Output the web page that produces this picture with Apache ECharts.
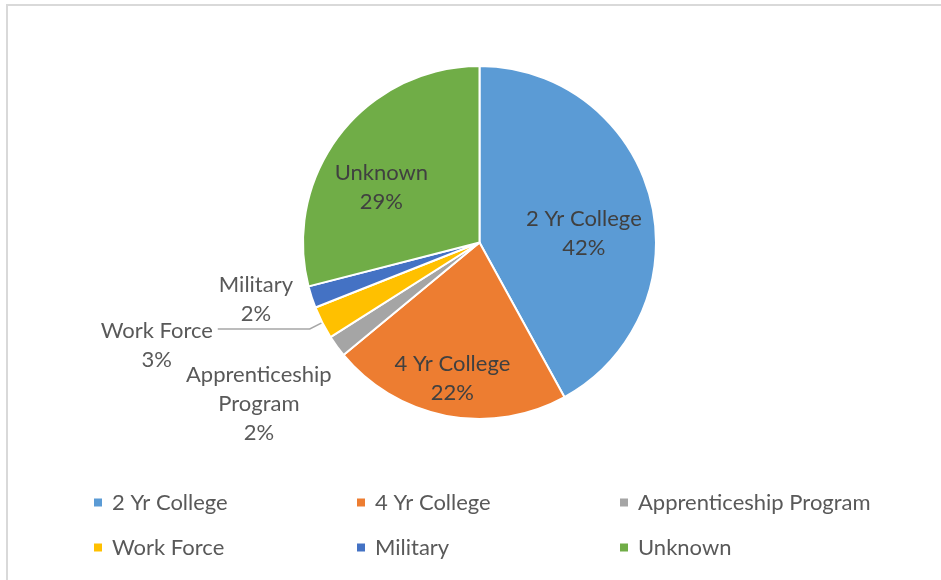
<!DOCTYPE html>
<html>
<head>
<meta charset="utf-8">
<script src="https://cdn.jsdelivr.net/npm/echarts@6/dist/echarts.min.js"></script>
<style>
html, body { margin: 0; padding: 0; background: #fff; overflow: hidden; }
#chart { width: 941px; height: 580px; }
</style>
</head>
<body>
<div id="chart"></div>
<script>
const categories = ['2 Yr College', '4 Yr College', 'Apprenticeship Program', 'Work Force', 'Military', 'Unknown'];
const percents = [42, 22, 2, 3, 2, 29];
const colors = ['#5B9BD5', '#ED7D31', '#A5A5A5', '#FFC000', '#4472C4', '#70AD47'];

// the thin slices carry their label outside the pie
const outsideLabels = ['Apprenticeship Program', 'Work Force', 'Military'];
// nudges [dx, dy] so labels land where the original put them
const labelShift = {
    '2 Yr College': [16, 14],
    '4 Yr College': [-10, 46],
    'Unknown': [-26, 1],
    'Military': [-39, 1],
    'Work Force': [-56, 16],
    'Apprenticeship Program': [-62, 54]
};

let chart = echarts.init(document.getElementById('chart'));

let pieData = categories.map((name, i) => {
    let outside = outsideLabels.indexOf(name) >= 0;
    let item = {
        name: name,
        value: percents[i],
        itemStyle: { color: colors[i] },
        label: {
            position: outside ? 'outside' : 'inside',
            color: outside ? '#595959' : '#404040'
        },
        labelLine: { show: false }
    };
    if (name == 'Work Force') {
        // only this one gets a leader line
        item.labelLine = { show: true, length: 14, length2: 92 };
    }
    return item;
});

let option = {
    backgroundColor: '#ffffff',
    animation: false,
    textStyle: { fontFamily: 'Lato' },
    graphic: [{
        type: 'rect',
        shape: { x: 7, y: 5, width: 1000, height: 700 },
        style: { fill: 'none', stroke: '#d9d9d9', lineWidth: 2 },
        silent: true
    }],
    legend: {
        data: categories,
        left: 92,
        top: 485,
        width: 800,
        padding: 0,
        orient: 'horizontal',
        icon: 'rect',
        itemWidth: 10,
        itemHeight: 10,
        itemGap: 10,
        textStyle: {
            fontFamily: 'Lato',
            fontSize: 22,
            color: '#595959',
            lineHeight: 35,
            width: 233,
            padding: [0, 0, 0, 4]
        }
    },
    series: [{
        type: 'pie',
        center: [479.5, 242.5],
        radius: 176.5,
        startAngle: 90,
        clockwise: true,
        avoidLabelOverlap: false,
        itemStyle: { borderColor: '#ffffff', borderWidth: 2 },
        label: {
            show: true,
            fontFamily: 'Lato',
            fontSize: 22,
            lineHeight: 29,
            formatter: p => {
                let name = p.name.length > 14 ? p.name.replace(' ', '\n') : p.name;
                return name + '\n' + Math.round(p.percent) + '%';
            }
        },
        labelLine: {
            length: 6,
            length2: 6,
            lineStyle: { color: '#a6a6a6', width: 1.5 }
        },
        labelLayout: params => {
            let s = labelShift[categories[params.dataIndex]];
            return { dx: s[0], dy: s[1], align: 'center' };
        },
        emphasis: { disabled: true },
        data: pieData
    }]
};

chart.setOption(option);
</script>
</body>
</html>
